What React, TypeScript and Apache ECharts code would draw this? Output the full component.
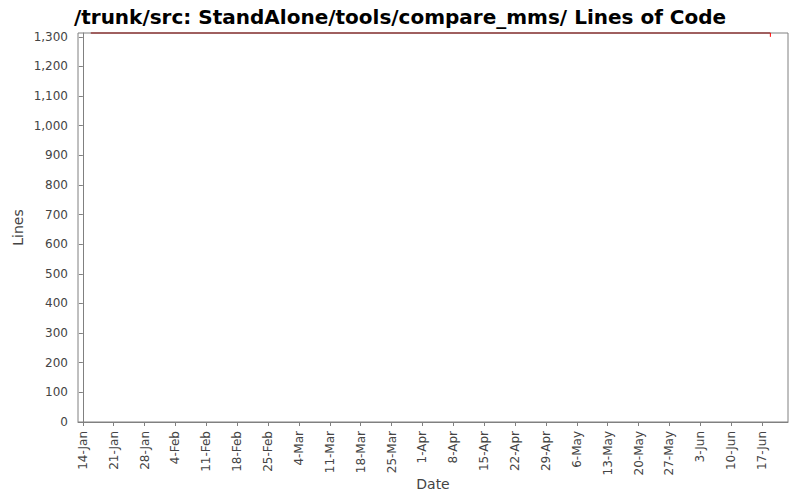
import { useEffect, useRef } from 'react';
import * as echarts from 'echarts';

// x positions are days counted from 14-Jan
const tickDays = [0, 7, 14, 21, 28, 35, 42, 49, 56, 63, 70, 77, 84, 91, 98, 105, 112, 119, 126, 133, 140, 147, 154];
const tickLabels = [
  '14-Jan', '21-Jan', '28-Jan', '4-Feb', '11-Feb', '18-Feb', '25-Feb', '4-Mar', '11-Mar', '18-Mar', '25-Mar',
  '1-Apr', '8-Apr', '15-Apr', '22-Apr', '29-Apr', '6-May', '13-May', '20-May', '27-May', '3-Jun', '10-Jun', '17-Jun',
];

// lines of code over time
const locDays = [1.8, 155.9];
const locValues = [1313, 1313];
// last change: small drop at the end
const dropDays = [155.9, 155.9];
const dropValues = [1313, 1300];

const font = 'DejaVu Sans';

export default function App() {
  const chartRef = useRef<HTMLDivElement>(null);

  useEffect(() => {
    if (!chartRef.current) {
      return;
    }
    const chart = echarts.init(chartRef.current, null, { renderer: 'svg' });

    const option: echarts.EChartsOption = {
      animation: false,
      backgroundColor: '#ffffff',
      title: {
        text: '/trunk/src: StandAlone/tools/compare_mms/ Lines of Code',
        left: 'center',
        top: 2,
        textStyle: { fontFamily: font, fontWeight: 'bold', fontSize: 20, color: '#000' },
      },
      grid: {
        left: 78,
        right: 12,
        top: 33,
        bottom: 78,
        outerBoundsMode: 'none',
        containLabel: false,
        show: true,
        borderColor: '#808080',
        borderWidth: 1,
        backgroundColor: '#ffffff',
      } as any,
      xAxis: {
        type: 'value',
        min: -1.1,
        max: 159.9,
        offset: 3,
        name: 'Date',
        nameLocation: 'middle',
        nameGap: 52,
        nameMoveOverlap: false,
        nameTextStyle: { fontFamily: font, fontSize: 14, color: '#444' },
        axisLine: { show: true, lineStyle: { color: '#808080' } },
        axisTick: { show: true, length: 4, customValues: tickDays, lineStyle: { color: '#808080' } },
        axisLabel: {
          customValues: tickDays,
          rotate: 90,
          margin: 6,
          fontFamily: font,
          fontSize: 12,
          color: '#444',
          formatter: (v: number) => tickLabels[tickDays.indexOf(Math.round(v))] ?? '',
        },
        splitLine: { show: false },
      } as any,
      yAxis: {
        type: 'value',
        min: 0,
        max: 1313,
        interval: 100,
        offset: 4,
        name: 'Lines',
        nameLocation: 'middle',
        nameGap: 49,
        nameMoveOverlap: false,
        nameRotate: 90,
        nameTextStyle: { fontFamily: font, fontSize: 14, color: '#444' },
        axisLine: { show: true, lineStyle: { color: '#808080' } },
        axisTick: { show: true, length: 4, lineStyle: { color: '#808080' } },
        axisLabel: {
          margin: 6,
          fontFamily: font,
          fontSize: 12,
          color: '#444',
          showMaxLabel: false,
          formatter: (v: number) => v.toLocaleString('en-US'),
        },
        splitLine: { show: false },
      } as any,
      series: [
        {
          type: 'line',
          data: locDays.map((d, i) => [d, locValues[i]]),
          showSymbol: false,
          clip: false,
          lineStyle: { color: '#800000', width: 1 },
          itemStyle: { color: '#800000' },
        },
        {
          type: 'line',
          data: dropDays.map((d, i) => [d, dropValues[i]]),
          showSymbol: false,
          clip: false,
          lineStyle: { color: '#ff0000', width: 1 },
          itemStyle: { color: '#ff0000' },
        },
      ],
    };

    chart.setOption(option);
    return () => {
      chart.dispose();
    };
  }, []);

  return <div ref={chartRef} style={{ position: 'absolute', left: 0, top: 0, width: 800, height: 500 }} />;
}
